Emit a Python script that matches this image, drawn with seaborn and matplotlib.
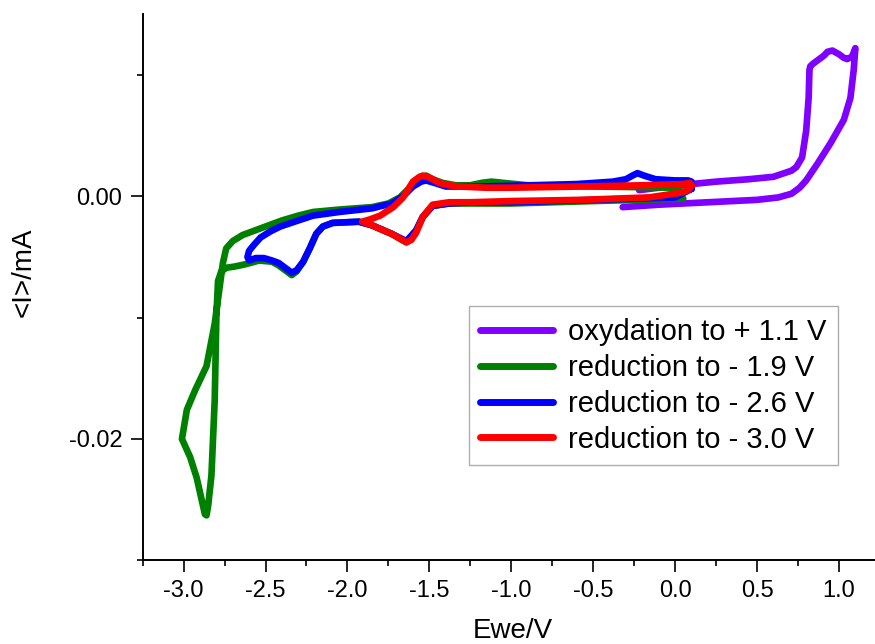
import matplotlib
matplotlib.use("Agg")
import matplotlib.pyplot as plt
from matplotlib.ticker import MultipleLocator, FormatStrFormatter
import numpy as np
import pandas as pd
import seaborn as sns

# Cyclic voltammograms (E in V, I in mA)
ox_x = [-0.32, -0.1, 0.2, 0.5, 0.63, 0.71, 0.76, 0.80, 0.87, 0.95, 1.03, 1.07, 1.09, 1.10,
        1.08, 1.05, 1.03, 1.00, 0.96, 0.93, 0.91, 0.89, 0.86, 0.84, 0.825, 0.82, 0.815, 0.80,
        0.775, 0.74, 0.71, 0.60, 0.45, 0.25, 0.10, -0.10, -0.22]
ox_y = [-0.0009, -0.0007, -0.0005, -0.0003, -0.0001, 0.0002, 0.0007, 0.0013, 0.0027, 0.0044,
        0.0063, 0.0081, 0.0104, 0.0122,
        0.0115, 0.0113, 0.0114, 0.0117, 0.0120, 0.0119, 0.0116, 0.0114, 0.0111, 0.0109, 0.0107,
        0.0104, 0.0081, 0.0054, 0.0032, 0.0024, 0.0021, 0.0016, 0.0014, 0.0012, 0.0010, 0.0007, 0.0005]

red19_x = [0.05, -0.5, -1.0, -1.24, -1.38, -1.48, -1.54, -1.58, -1.64, -1.73, -1.85, -1.93,
           -2.09, -2.15, -2.19, -2.23, -2.27, -2.31, -2.34, -2.37, -2.42, -2.46, -2.54, -2.62,
           -2.69, -2.74, -2.77, -2.79, -2.80, -2.81, -2.83, -2.85, -2.86, -2.87, -2.89, -2.92,
           -2.96, -3.01, -2.98, -2.93, -2.86, -2.81, -2.78, -2.76, -2.74, -2.70, -2.64, -2.58,
           -2.48, -2.40, -2.30, -2.21, -2.05, -1.85, -1.75, -1.68, -1.62, -1.56, -1.52, -1.48,
           -1.42, -1.34, -1.25, -1.18, -1.12, -1.05, -0.9, -0.5, 0.0, 0.05]
red19_y = [-0.0002, -0.0004, -0.0006, -0.0006, -0.0006, -0.0008, -0.0017, -0.0028, -0.0038, -0.0031,
           -0.0024, -0.0021, -0.0022, -0.0025, -0.0031, -0.0043, -0.0054, -0.0062, -0.0065, -0.0062,
           -0.0057, -0.0054, -0.0053, -0.0056, -0.0058, -0.0059, -0.0062, -0.0070, -0.0100, -0.0168,
           -0.0230, -0.0255, -0.0263, -0.0262, -0.0250, -0.0232, -0.0215, -0.0200, -0.0176, -0.0160,
           -0.0140, -0.0105, -0.0075, -0.0055, -0.0043, -0.0037, -0.0032, -0.0029, -0.0024, -0.0020,
           -0.0016, -0.0013, -0.0011, -0.0009, -0.0006, -0.0001, 0.0007, 0.0014, 0.0017, 0.0014,
           0.0011, 0.0009, 0.0009, 0.0011, 0.0012, 0.0011, 0.0009, 0.0008, 0.0007, 0.0003]

red26_x = [0.10, 0.0, -0.5, -1.0, -1.24, -1.38, -1.48, -1.54, -1.58, -1.64, -1.73, -1.85,
           -1.93, -2.09, -2.15, -2.19, -2.23, -2.27, -2.31, -2.34, -2.37, -2.42, -2.46, -2.51,
           -2.56, -2.60, -2.61, -2.60, -2.57, -2.53, -2.47, -2.41, -2.30, -2.21, -2.05, -1.85,
           -1.73, -1.66, -1.60, -1.55, -1.52, -1.47, -1.40, -1.30, -1.18, -0.6, -0.38, -0.30,
           -0.26, -0.23, -0.19, -0.12, 0.0, 0.08, 0.10, 0.10]
red26_y = [0.0006, -0.0001, -0.0003, -0.0005, -0.0005, -0.0006, -0.0008, -0.0017, -0.0028, -0.0037,
           -0.0031, -0.0024, -0.0021, -0.0022, -0.0025, -0.0031, -0.0043, -0.0054, -0.0061, -0.0063,
           -0.0060, -0.0055, -0.0053, -0.0051, -0.0051, -0.0053, -0.0050, -0.0045, -0.0040, -0.0034,
           -0.0029, -0.0025, -0.0020, -0.0016, -0.0013, -0.0010, -0.0006, 0.0000, 0.0008, 0.0012,
           0.0013, 0.0011, 0.0008, 0.0008, 0.0008, 0.0010, 0.0012, 0.0014, 0.0017, 0.0019,
           0.0017, 0.0014, 0.0013, 0.0013, 0.0012, 0.0006]

red30_x = [0.10, 0.08, 0.04, -0.16, -0.57, -1.0, -1.24, -1.38, -1.48, -1.54, -1.58, -1.61,
           -1.64, -1.68, -1.73, -1.80, -1.85, -1.91, -1.86, -1.80, -1.72, -1.66, -1.60, -1.56,
           -1.54, -1.51, -1.48, -1.44, -1.38, -1.32, -1.15, -1.0, -0.57, -0.2, 0.05, 0.09, 0.10]
red30_y = [0.0009, 0.0005, 0.0003, -0.0001, -0.0003, -0.0004, -0.0005, -0.0005, -0.0007, -0.0017,
           -0.0030, -0.0036, -0.0038, -0.0035, -0.0031, -0.0027, -0.0024, -0.0021, -0.0019, -0.0016,
           -0.0009, -0.0001, 0.0012, 0.0016, 0.0017, 0.0016, 0.0014, 0.0011, 0.0009, 0.0008,
           0.0007, 0.0007, 0.0008, 0.0009, 0.0010, 0.0011, 0.0009]

labels = ["oxydation to + 1.1 V", "reduction to - 1.9 V",
          "reduction to - 2.6 V", "reduction to - 3.0 V"]
colors = ["#8000FF", "#008000", "#0000FF", "#FF0000"]

frames = []
for lab, xs, ys in zip(labels, [ox_x, red19_x, red26_x, red30_x], [ox_y, red19_y, red26_y, red30_y]):
    frames.append(pd.DataFrame({"E": xs, "I": ys, "scan": lab, "idx": np.arange(len(xs))}))
df = pd.concat(frames, ignore_index=True)

sns.set_style("ticks")
plt.rcParams["font.family"] = ["Liberation Sans", "DejaVu Sans"]
plt.rcParams["axes.unicode_minus"] = False
plt.rcParams["text.color"] = "black"
plt.rcParams["axes.labelcolor"] = "black"
plt.rcParams["xtick.color"] = "black"
plt.rcParams["ytick.color"] = "black"

fig = plt.figure(figsize=(8.75, 6.44), dpi=100)
ax = fig.add_axes([0.163, 0.130, 0.837, 0.848])

sns.lineplot(data=df, x="E", y="I", hue="scan", hue_order=labels,
             palette=dict(zip(labels, colors)), sort=False, estimator=None,
             units="scan", linewidth=4.8, ax=ax)
for line in ax.lines:
    line.set_solid_capstyle("round")
    line.set_solid_joinstyle("round")

ax.set_xlim(-3.25, 1.22)
ax.set_ylim(-0.03, 0.015)
ax.xaxis.set_major_locator(MultipleLocator(0.5))
ax.xaxis.set_minor_locator(MultipleLocator(0.25))
ax.yaxis.set_major_locator(MultipleLocator(0.02))
ax.yaxis.set_minor_locator(MultipleLocator(0.01))
ax.xaxis.set_major_formatter(FormatStrFormatter("%.1f"))
ax.yaxis.set_major_formatter(FormatStrFormatter("%.2f"))
ax.tick_params(which="major", direction="out", length=8.5, width=1.2, labelsize=17, pad=6,
               color="black", labelcolor="black")
ax.tick_params(which="minor", direction="out", length=4.3, width=1.2, color="black")

for side in ["top", "right"]:
    ax.spines[side].set_visible(False)
for side in ["left", "bottom"]:
    ax.spines[side].set_linewidth(1.4)
    ax.spines[side].set_color("black")

ax.set_xlabel("Ewe/V", fontsize=20, color="black")
ax.set_ylabel("<I>/mA", fontsize=20, color="black")
ax.xaxis.set_label_coords(0.505, -0.106)
ax.yaxis.set_label_coords(-0.145, 0.527)

leg = ax.legend(loc="upper right", bbox_to_anchor=(0.9495, 0.465), borderaxespad=0,
                fontsize=21, frameon=True, fancybox=False, handlelength=2.5,
                handletextpad=0.5, labelspacing=0.27, borderpad=0.4)
leg.get_frame().set_edgecolor("#999999")
leg.get_frame().set_linewidth(1.0)
for h in leg.get_lines():
    h.set_linewidth(5)
    h.set_solid_capstyle("round")

fig.savefig("out.png", dpi=100)
